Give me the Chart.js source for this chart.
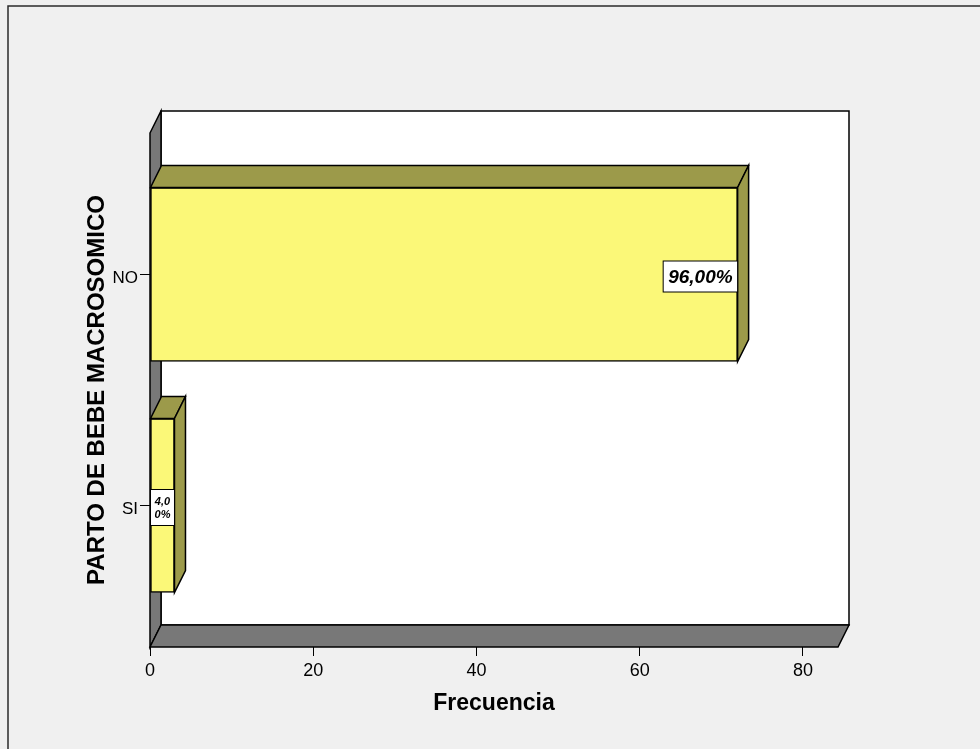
<!DOCTYPE html>
<html>
<head>
<meta charset="utf-8">
<title>PARTO DE BEBE MACROSOMICO</title>
<script src="https://cdn.jsdelivr.net/npm/chart.js@4.4.1/dist/chart.umd.min.js"></script>
<style>
  html, body { margin: 0; padding: 0; background: #f0f0f0; }
  #wrap { width: 980px; height: 749px; }
  canvas { display: block; }
</style>
</head>
<body>
<div id="wrap"><canvas id="chart" width="980" height="749"></canvas></div>
<script>
// Frequencies per category
const categories = ['NO', 'SI'];
const frequencies = [72, 3];
const xTickValues = [0, 20, 40, 60, 80];

const total = frequencies.reduce((s, v) => s + v, 0);
const percentLabels = frequencies.map(f => (f / total * 100).toFixed(2).replace('.', ',') + '%');

// 3D depth offset of walls and bars
const DX = 11, DY = -22;
const FACE = '#fbf878';
const SIDE = '#9c9a4a';
const WALL = '#787878';
const FONT = '"Liberation Sans", Arial, sans-serif';

function poly(ctx, pts, fill) {
  ctx.beginPath();
  ctx.moveTo(pts[0][0], pts[0][1]);
  for (let i = 1; i < pts.length; i++) ctx.lineTo(pts[i][0], pts[i][1]);
  ctx.closePath();
  ctx.fillStyle = fill;
  ctx.fill();
  ctx.stroke();
}

// split text into lines that fit a width, character by character
function wrapChars(ctx, text, maxW) {
  const lines = [];
  let cur = '';
  for (const ch of text) {
    if (cur && ctx.measureText(cur + ch).width > maxW) { lines.push(cur); cur = ch; }
    else cur += ch;
  }
  if (cur) lines.push(cur);
  return lines;
}

function drawValueLabel(ctx, text, left, right, cy) {
  ctx.save();
  ctx.lineWidth = 1;
  ctx.strokeStyle = '#000';
  ctx.font = 'italic bold 19px ' + FONT;
  const w = ctx.measureText(text).width + 10;
  const barW = right - left;
  ctx.textAlign = 'center';
  ctx.textBaseline = 'middle';
  if (w <= barW) {
    const h = 31;
    const bx = right - w, by = cy - h / 2 + 2;
    ctx.fillStyle = '#fff';
    ctx.fillRect(bx, by, w, h);
    ctx.strokeRect(bx, by, w, h);
    ctx.fillStyle = '#000';
    ctx.fillText(text, bx + w / 2, by + h / 2 + 1);
  } else {
    ctx.font = 'italic bold 11px ' + FONT;
    const lines = wrapChars(ctx, text, barW - 4);
    const lh = 13;
    const h = lines.length * lh + 10;
    const by = cy - h / 2 + 2;
    ctx.fillStyle = '#fff';
    ctx.fillRect(left, by, barW, h);
    ctx.strokeRect(left, by, barW, h);
    ctx.fillStyle = '#000';
    lines.forEach((ln, i) => ctx.fillText(ln, left + barW / 2, by + 5 + lh / 2 + i * lh + 1));
  }
  ctx.restore();
}

const frame3d = {
  id: 'frame3d',
  beforeDraw(chart) {
    const ctx = chart.ctx;
    ctx.save();
    ctx.fillStyle = '#f0f0f0';
    ctx.fillRect(0, 0, chart.width, chart.height);
    ctx.strokeStyle = '#2a2a2a';
    ctx.lineWidth = 1.5;
    ctx.strokeRect(8, 6, chart.width, chart.height);
    ctx.restore();
  },
  beforeDatasetsDraw(chart) {
    const { ctx, chartArea: a } = chart;
    ctx.save();
    ctx.lineWidth = 1.5;
    ctx.strokeStyle = '#000';
    ctx.lineJoin = 'miter';
    // back wall
    ctx.beginPath();
    ctx.rect(a.left + DX, a.top + DY, a.right - a.left, a.bottom - a.top);
    ctx.fillStyle = '#fff';
    ctx.fill();
    ctx.stroke();
    // left wall
    poly(ctx, [[a.left, a.top], [a.left + DX, a.top + DY], [a.left + DX, a.bottom + DY], [a.left, a.bottom]], WALL);
    // floor
    poly(ctx, [[a.left, a.bottom], [a.left + DX, a.bottom + DY], [a.right + DX, a.bottom + DY], [a.right, a.bottom]], WALL);
    ctx.restore();
  },
  afterDatasetsDraw(chart) {
    const ctx = chart.ctx;
    const meta = chart.getDatasetMeta(0);
    ctx.save();
    ctx.lineWidth = 1.5;
    ctx.strokeStyle = '#000';
    meta.data.forEach((bar) => {
      const { x, y, base, height } = bar.getProps(['x', 'y', 'base', 'height'], true);
      const top = y - height / 2, bottom = y + height / 2;
      poly(ctx, [[base, top], [base + DX, top + DY], [x + DX, top + DY], [x, top]], SIDE);
      poly(ctx, [[x, top], [x + DX, top + DY], [x + DX, bottom + DY], [x, bottom]], SIDE);
    });
    ctx.restore();
    meta.data.forEach((bar, i) => {
      const { x, y, base } = bar.getProps(['x', 'y', 'base'], true);
      drawValueLabel(ctx, percentLabels[i], base, x, y);
    });
  }
};

new Chart(document.getElementById('chart'), {
  type: 'bar',
  data: {
    datasets: [{
      data: frequencies.map((f, i) => ({ x: f, y: i })),
      backgroundColor: FACE,
      borderColor: '#000',
      borderWidth: 1.5,
      borderSkipped: false,
      barThickness: 174
    }]
  },
  options: {
    indexAxis: 'y',
    responsive: false,
    animation: false,
    devicePixelRatio: 1,
    layout: { padding: { left: 0, top: 133, right: 142, bottom: 0 } },
    plugins: { legend: { display: false }, tooltip: { enabled: false } },
    scales: {
      x: {
        type: 'linear',
        min: 0,
        max: 84.3,
        afterBuildTicks: s => { s.ticks = xTickValues.map(v => ({ value: v })); },
        afterFit: s => { s.height = 102; },
        grid: { drawOnChartArea: false, drawTicks: true, tickLength: 9, color: '#000', lineWidth: 1 },
        border: { display: false },
        ticks: { color: '#000', padding: 4, font: { family: FONT, size: 18 } },
        title: {
          display: true,
          text: 'Frecuencia',
          color: '#000',
          font: { family: FONT, size: 23, weight: 'bold' },
          padding: { top: 0, bottom: 32 }
        }
      },
      y: {
        type: 'linear',
        reverse: true,
        offset: false,
        min: -0.6126,
        max: 1.6126,
        afterBuildTicks: s => { s.ticks = categories.map((_, i) => ({ value: i })); },
        afterFit: s => { s.width = 150; },
        grid: { offset: false, drawOnChartArea: false, drawTicks: true, tickLength: 10, color: '#000', lineWidth: 1 },
        border: { display: false },
        ticks: { color: '#000', padding: 2, labelOffset: 4, font: { family: FONT, size: 17 }, callback: v => categories[v] },
        title: {
          display: true,
          text: 'PARTO DE BEBE MACROSOMICO',
          color: '#000',
          font: { family: FONT, size: 24, weight: 'bold' },
          padding: { top: 83, bottom: 0 }
        }
      }
    }
  },
  plugins: [frame3d]
});
</script>
</body>
</html>
